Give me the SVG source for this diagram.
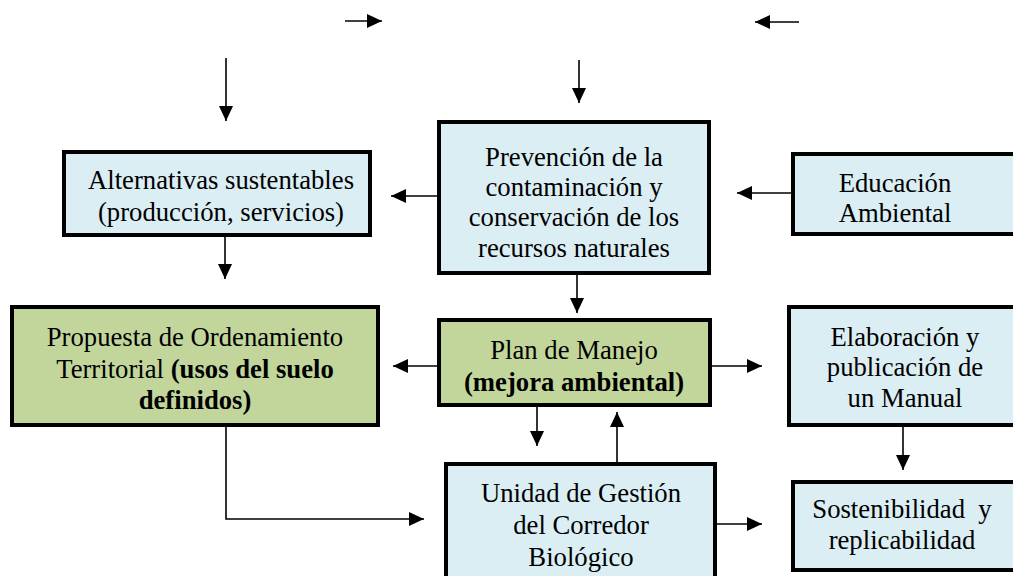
<svg xmlns="http://www.w3.org/2000/svg" width="1013" height="576" viewBox="0 0 1013 576">
<style>
.blue{fill:#DAEEF3;stroke:#000;stroke-width:4}
.green{fill:#C2D69B;stroke:#000;stroke-width:4}
text{font-family:'Liberation Serif','DejaVu Serif',serif;font-size:26.7px;fill:#000;text-anchor:middle}
.b{font-weight:bold}
.c{fill:none;stroke:#000;stroke-width:1.6}
</style>
<defs>
<marker id="ah" markerUnits="userSpaceOnUse" markerWidth="16" markerHeight="14" refX="15" refY="7" orient="auto">
<path d="M0,0 L15,7 L0,14 Z" fill="#000"/>
</marker>
</defs>
<rect width="1013" height="576" fill="#fff"/>
<g id="connectors">
<path class="c" d="M345,21 H382" marker-end="url(#ah)"/>
<path class="c" d="M799,22 H755" marker-end="url(#ah)"/>
<path class="c" d="M226,58 V121" marker-end="url(#ah)"/>
<path class="c" d="M579,60 V103" marker-end="url(#ah)"/>
<path class="c" d="M437,196 H391" marker-end="url(#ah)"/>
<path class="c" d="M791,193 H737" marker-end="url(#ah)"/>
<path class="c" d="M225,237 V279" marker-end="url(#ah)"/>
<path class="c" d="M577,273 V313" marker-end="url(#ah)"/>
<path class="c" d="M437,366 H393" marker-end="url(#ah)"/>
<path class="c" d="M712,366 H762" marker-end="url(#ah)"/>
<path class="c" d="M537,407 V446" marker-end="url(#ah)"/>
<path class="c" d="M617,462 V412" marker-end="url(#ah)"/>
<path class="c" d="M903,427 V470" marker-end="url(#ah)"/>
<path class="c" d="M226,427 V519 H424" marker-end="url(#ah)"/>
<path class="c" d="M717,524 H762" marker-end="url(#ah)"/>
</g>
<g id="prevencion">
<rect class="blue" x="439" y="122" width="270" height="151"/>
<text x="574" y="166">Prevención de la</text>
<text x="574" y="196">contaminación y</text>
<text x="574" y="226">conservación de los</text>
<text x="574" y="257">recursos naturales</text>
</g>
<g id="alternativas">
<rect class="blue" x="64" y="152" width="306" height="83"/>
<text x="221" y="189">Alternativas sustentables</text>
<text x="221" y="221">(producción, servicios)</text>
</g>
<g id="educacion">
<rect class="blue" x="793" y="154" width="240" height="80"/>
<text x="895" y="192">Educación</text>
<text x="895" y="222">Ambiental</text>
</g>
<g id="propuesta">
<rect class="green" x="12" y="307" width="366" height="118"/>
<text x="195" y="346">Propuesta de Ordenamiento</text>
<text x="195" y="378">Territorial <tspan class="b">(usos del suelo</tspan></text>
<text x="195" y="409" class="b">definidos)</text>
</g>
<g id="plan">
<rect class="green" x="439" y="320" width="271" height="85"/>
<text x="574" y="359">Plan de Manejo</text>
<text x="574" y="391" class="b">(mejora ambiental)</text>
</g>
<g id="elaboracion">
<rect class="blue" x="789" y="307" width="244" height="118"/>
<text x="905" y="346">Elaboración y</text>
<text x="905" y="376">publicación de</text>
<text x="905" y="407">un Manual</text>
</g>
<g id="unidad">
<rect class="blue" x="446" y="464" width="269" height="130"/>
<text x="581" y="502">Unidad de Gestión</text>
<text x="581" y="534">del Corredor</text>
<text x="581" y="566">Biológico</text>
</g>
<g id="sostenibilidad">
<rect class="blue" x="793" y="482" width="240" height="88"/>
<text x="902" y="518" xml:space="preserve">Sostenibilidad  y</text>
<text x="902" y="549">replicabilidad</text>
</g>
</svg>
